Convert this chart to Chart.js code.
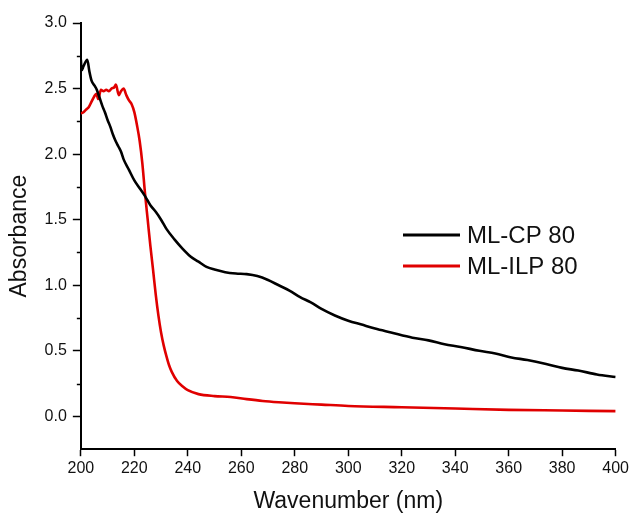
<!DOCTYPE html>
<html>
<head>
<meta charset="utf-8">
<script src="https://cdn.jsdelivr.net/npm/chart.js@4"></script>
<style>
  html, body { margin: 0; padding: 0; background: #fff; }
  #wrap { width: 632px; height: 516px; }
</style>
</head>
<body>
<div id="wrap"><canvas id="chart" width="632" height="516"></canvas></div>
<script>
// wavelength (nm) and absorbance
var cpX = [200, 200.3, 201, 202.4, 203.2, 204, 205.2, 206, 207, 208, 209, 210, 211, 212, 213, 214, 215, 216, 218, 220,
           222, 224, 226, 228, 230, 232, 235, 238, 241, 244, 247, 250, 254, 258, 262, 266, 270, 274, 278, 282,
           286, 290, 295, 300, 305, 310, 316, 324, 330, 336, 342, 349, 355, 361, 367, 374, 380, 386, 393, 400];
var cpY = [2.72, 2.64, 2.67, 2.72, 2.63, 2.56, 2.52, 2.49, 2.43, 2.37, 2.32, 2.26, 2.21, 2.15, 2.10, 2.06, 2.02, 1.96, 1.88, 1.80,
           1.74, 1.68, 1.61, 1.56, 1.50, 1.43, 1.35, 1.28, 1.22, 1.18, 1.14, 1.12, 1.10, 1.09, 1.085, 1.07, 1.04, 1.00, 0.96, 0.91,
           0.87, 0.82, 0.77, 0.73, 0.70, 0.67, 0.64, 0.60, 0.58, 0.55, 0.53, 0.50, 0.48, 0.45, 0.43, 0.40, 0.37, 0.35, 0.32, 0.30];

var ilpX = [200, 201, 202, 203, 204, 205, 205.8, 206.5, 207.5, 208.5, 209.5, 210.5, 211.5, 212.5, 213.1, 214.2, 215, 216, 217, 218,
            219, 220, 221, 222, 223, 224, 225, 226, 227, 228, 229, 230, 231, 232, 233, 234, 236, 238, 240, 244,
            250, 256, 262, 268, 274, 280, 290, 300, 320, 340, 360, 380, 400];
var ilpY = [2.31, 2.32, 2.34, 2.36, 2.40, 2.44, 2.46, 2.42, 2.49, 2.48, 2.49, 2.48, 2.50, 2.51, 2.53, 2.45, 2.48, 2.50, 2.45, 2.41,
            2.38, 2.32, 2.22, 2.10, 1.93, 1.70, 1.50, 1.30, 1.12, 0.93, 0.77, 0.64, 0.54, 0.46, 0.39, 0.34, 0.27, 0.23, 0.20, 0.17,
            0.155, 0.148, 0.132, 0.118, 0.108, 0.10, 0.09, 0.08, 0.07, 0.06, 0.05, 0.045, 0.04];

var seriesNames = ['ML-CP 80', 'ML-ILP 80'];
var seriesColors = ['#000000', '#e00000'];

function pts(xs, ys) {
  return xs.map(function (x, i) { return { x: x, y: ys[i] }; });
}

var FONT = '"Liberation Sans", Arial, sans-serif';

// short minor ticks on the y axis, between the labelled ones
var minorTicks = {
  id: 'minorTicks',
  afterDraw: function (chart) {
    var ctx = chart.ctx, y = chart.scales.y, left = chart.chartArea.left;
    ctx.save();
    ctx.strokeStyle = '#000';
    ctx.lineWidth = 1.5;
    for (var v = 0.25; v < 3; v += 0.5) {
      var py = Math.round(y.getPixelForValue(v)) + 0.5;
      ctx.beginPath();
      ctx.moveTo(left - 4, py);
      ctx.lineTo(left, py);
      ctx.stroke();
    }
    ctx.restore();
  }
};

// legend drawn inside the plot, to the right
var insideLegend = {
  id: 'insideLegend',
  afterDraw: function (chart) {
    var ctx = chart.ctx;
    ctx.save();
    ctx.font = '24px ' + FONT;
    ctx.textBaseline = 'middle';
    chart.data.datasets.forEach(function (ds, i) {
      var yy = 235 + i * 31;
      ctx.strokeStyle = ds.borderColor;
      ctx.lineWidth = 3;
      ctx.beginPath();
      ctx.moveTo(403, yy);
      ctx.lineTo(460, yy);
      ctx.stroke();
      ctx.fillStyle = '#111';
      ctx.fillText(ds.label, 467, yy + 1);
    });
    ctx.restore();
  }
};

new Chart(document.getElementById('chart').getContext('2d'), {
  type: 'line',
  data: {
    datasets: [
      { label: seriesNames[0], data: pts(cpX, cpY), borderColor: seriesColors[0], borderWidth: 2.6,
        pointRadius: 0, cubicInterpolationMode: 'monotone', fill: false },
      { label: seriesNames[1], data: pts(ilpX, ilpY), borderColor: seriesColors[1], borderWidth: 2.6,
        pointRadius: 0, cubicInterpolationMode: 'monotone', fill: false }
    ]
  },
  options: {
    responsive: false,
    animation: false,
    layout: { padding: { left: 6, right: 5, top: 23, bottom: 1 } },
    plugins: { legend: { display: false }, tooltip: { enabled: false } },
    scales: {
      x: {
        type: 'linear', min: 200, max: 400,
        ticks: { stepSize: 20, padding: 3, color: '#111', font: { family: FONT, size: 16 } },
        grid: { drawOnChartArea: false, drawTicks: true, tickLength: 7, tickColor: '#000', tickWidth: 1.5 },
        border: { display: true, color: '#000', width: 2 },
        title: { display: true, text: 'Wavenumber (nm)', color: '#111',
                 font: { family: FONT, size: 23 }, padding: { top: 6, bottom: 0 } }
      },
      y: {
        type: 'linear', min: -0.25, max: 3.0,
        ticks: {
          stepSize: 0.25, padding: 6, color: '#111', font: { family: FONT, size: 16 },
          callback: function (v) {
            return Math.abs(v * 2 - Math.round(v * 2)) < 1e-6 ? v.toFixed(1) : '';
          }
        },
        grid: {
          drawOnChartArea: false, drawTicks: true, tickLength: 8, tickWidth: 1.5,
          tickColor: function (c) {
            var v = c.tick ? c.tick.value : 0;
            return Math.abs(v * 2 - Math.round(v * 2)) < 1e-6 ? '#000' : 'rgba(0,0,0,0)';
          }
        },
        border: { display: true, color: '#000', width: 2 },
        title: { display: true, text: 'Absorbance', color: '#111',
                 font: { family: FONT, size: 23 }, padding: { top: 0, bottom: 5 } }
      }
    }
  },
  plugins: [minorTicks, insideLegend]
});
</script>
</body>
</html>
